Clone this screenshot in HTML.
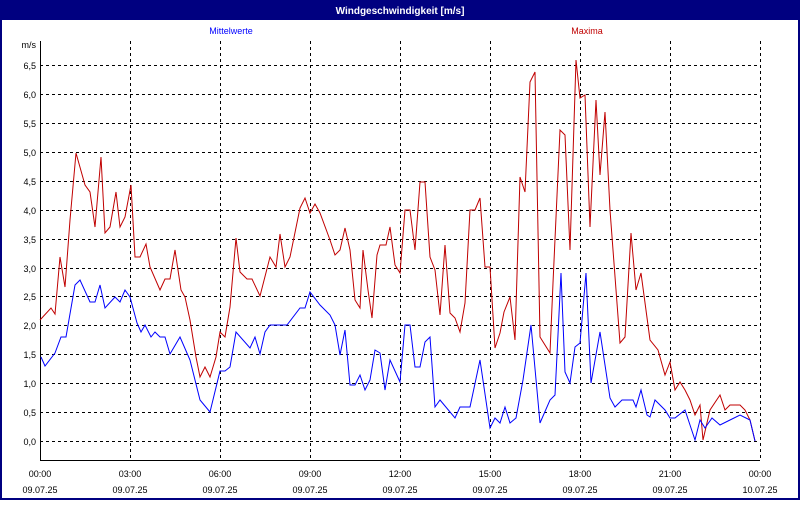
<!DOCTYPE html>
<html><head><style>
body{margin:0;width:800px;height:500px;overflow:hidden;background:#fff;font-family:"Liberation Sans",sans-serif}
</style></head><body>
<svg width="800" height="500" xmlns="http://www.w3.org/2000/svg" font-family="Liberation Sans, sans-serif" font-size="9">
<rect x="0" y="0" width="800" height="500" fill="#000080"/>
<rect x="2" y="20" width="796" height="478" fill="#fff"/>
<text x="400" y="14" fill="#fff" font-weight="bold" font-size="10" text-anchor="middle">Windgeschwindigkeit [m/s]</text>
<text x="231" y="34" fill="#0000ff" text-anchor="middle">Mittelwerte</text>
<text x="587" y="34" fill="#c00000" text-anchor="middle">Maxima</text>
<text x="36" y="48" text-anchor="end">m/s</text>
<g stroke="#000" stroke-dasharray="3,3" stroke-width="1">
<line x1="40" x2="760" y1="65.5" y2="65.5"/><line x1="40" x2="760" y1="94.5" y2="94.5"/><line x1="40" x2="760" y1="123.5" y2="123.5"/><line x1="40" x2="760" y1="152.5" y2="152.5"/><line x1="40" x2="760" y1="181.5" y2="181.5"/><line x1="40" x2="760" y1="210.5" y2="210.5"/><line x1="40" x2="760" y1="239.5" y2="239.5"/><line x1="40" x2="760" y1="268.5" y2="268.5"/><line x1="40" x2="760" y1="296.5" y2="296.5"/><line x1="40" x2="760" y1="325.5" y2="325.5"/><line x1="40" x2="760" y1="354.5" y2="354.5"/><line x1="40" x2="760" y1="383.5" y2="383.5"/><line x1="40" x2="760" y1="412.5" y2="412.5"/><line x1="40" x2="760" y1="441.5" y2="441.5"/>
<line x1="130.5" x2="130.5" y1="41" y2="460"/><line x1="220.5" x2="220.5" y1="41" y2="460"/><line x1="310.5" x2="310.5" y1="41" y2="460"/><line x1="400.5" x2="400.5" y1="41" y2="460"/><line x1="490.5" x2="490.5" y1="41" y2="460"/><line x1="580.5" x2="580.5" y1="41" y2="460"/><line x1="670.5" x2="670.5" y1="41" y2="460"/><line x1="760.5" x2="760.5" y1="41" y2="460"/>
</g>
<line x1="40.5" x2="40.5" y1="41" y2="461" stroke="#000"/>
<line x1="40" x2="760" y1="460.5" y2="460.5" stroke="#000"/>
<g text-anchor="end">
<text x="36" y="69">6,5</text><text x="36" y="98">6,0</text><text x="36" y="127">5,5</text><text x="36" y="156">5,0</text><text x="36" y="185">4,5</text><text x="36" y="214">4,0</text><text x="36" y="243">3,5</text><text x="36" y="272">3,0</text><text x="36" y="300">2,5</text><text x="36" y="329">2,0</text><text x="36" y="358">1,5</text><text x="36" y="387">1,0</text><text x="36" y="416">0,5</text><text x="36" y="445">0,0</text>
</g>
<g text-anchor="middle">
<text x="40" y="477">00:00</text><text x="130" y="477">03:00</text><text x="220" y="477">06:00</text><text x="310" y="477">09:00</text><text x="400" y="477">12:00</text><text x="490" y="477">15:00</text><text x="580" y="477">18:00</text><text x="670" y="477">21:00</text><text x="760" y="477">00:00</text>
<text x="40" y="493">09.07.25</text><text x="130" y="493">09.07.25</text><text x="220" y="493">09.07.25</text><text x="310" y="493">09.07.25</text><text x="400" y="493">09.07.25</text><text x="490" y="493">09.07.25</text><text x="580" y="493">09.07.25</text><text x="670" y="493">09.07.25</text><text x="760" y="493">10.07.25</text>
</g>
<polyline fill="none" stroke="#c00000" stroke-width="1" points="40,320 51,308 55,314 60,257 65,287 70,220 76,153 85,185 90,192 95,227 101,157 105,233 110,227 116,192 120,227 125,217 131,185 135,257 140,257 146,244 150,267 160,290 165,279 170,279 175,250 181,290 185,297 190,320 196,357 200,377 205,367 210,377 216,357 220,332 225,337 230,307 236,238 240,272 247,279 252,279 260,296 270,257 276,267 280,234 285,267 290,257 300,208 305,198 310,213 315,204 320,213 330,240 335,255 340,250 345,228 350,250 355,300 360,308 363,250 368,290 372,318 377,255 380,245 386,245 390,227 395,265 400,273 405,210 410,210 415,250 420,182 425,182 430,257 435,270 440,315 445,245 450,313 455,318 460,332 465,303 470,210 475,210 480,198 485,267 490,267 495,348 500,333 504,312 510,297 515,340 520,177 525,192 530,82 535,72 540,337 550,353 553,283 560,130 565,135 570,250 576,60 580,98 585,95 590,227 596,100 600,175 605,112 610,210 620,343 625,337 631,233 636,290 641,273 650,340 658,350 665,375 670,362 675,390 680,382 685,390 690,400 695,415 700,405 703,440 710,410 720,395 725,410 730,405 740,405 745,410 750,420 755,441"/>
<polyline fill="none" stroke="#0000ff" stroke-width="1" points="41,357 45,366 55,353 61,337 66,337 75,285 80,280 90,302 95,302 100,285 105,308 115,297 120,302 125,290 130,297 137,323 141,332 145,325 151,337 155,332 160,337 165,337 170,354 180,337 190,360 200,400 210,412 220,371 225,371 230,367 236,332 250,348 255,337 260,354 265,332 270,325 287,325 300,308 305,308 310,292 320,305 330,315 335,325 340,355 345,330 350,385 355,385 360,375 365,390 370,380 375,350 380,353 385,390 390,360 400,382 405,325 410,325 415,367 420,367 425,342 430,337 435,407 440,400 455,418 460,407 470,407 480,360 490,428 495,418 500,423 505,407 510,423 516,418 523,380 531,325 540,423 550,400 555,395 557,355 561,273 565,372 570,383 575,347 580,343 586,273 591,383 600,332 610,398 615,407 622,400 633,400 636,407 641,390 647,415 650,417 655,400 665,410 670,418 675,418 685,410 690,425 695,440 700,420 705,428 712,418 720,425 730,420 740,415 750,420 755,441"/>
</svg>
</body></html>
